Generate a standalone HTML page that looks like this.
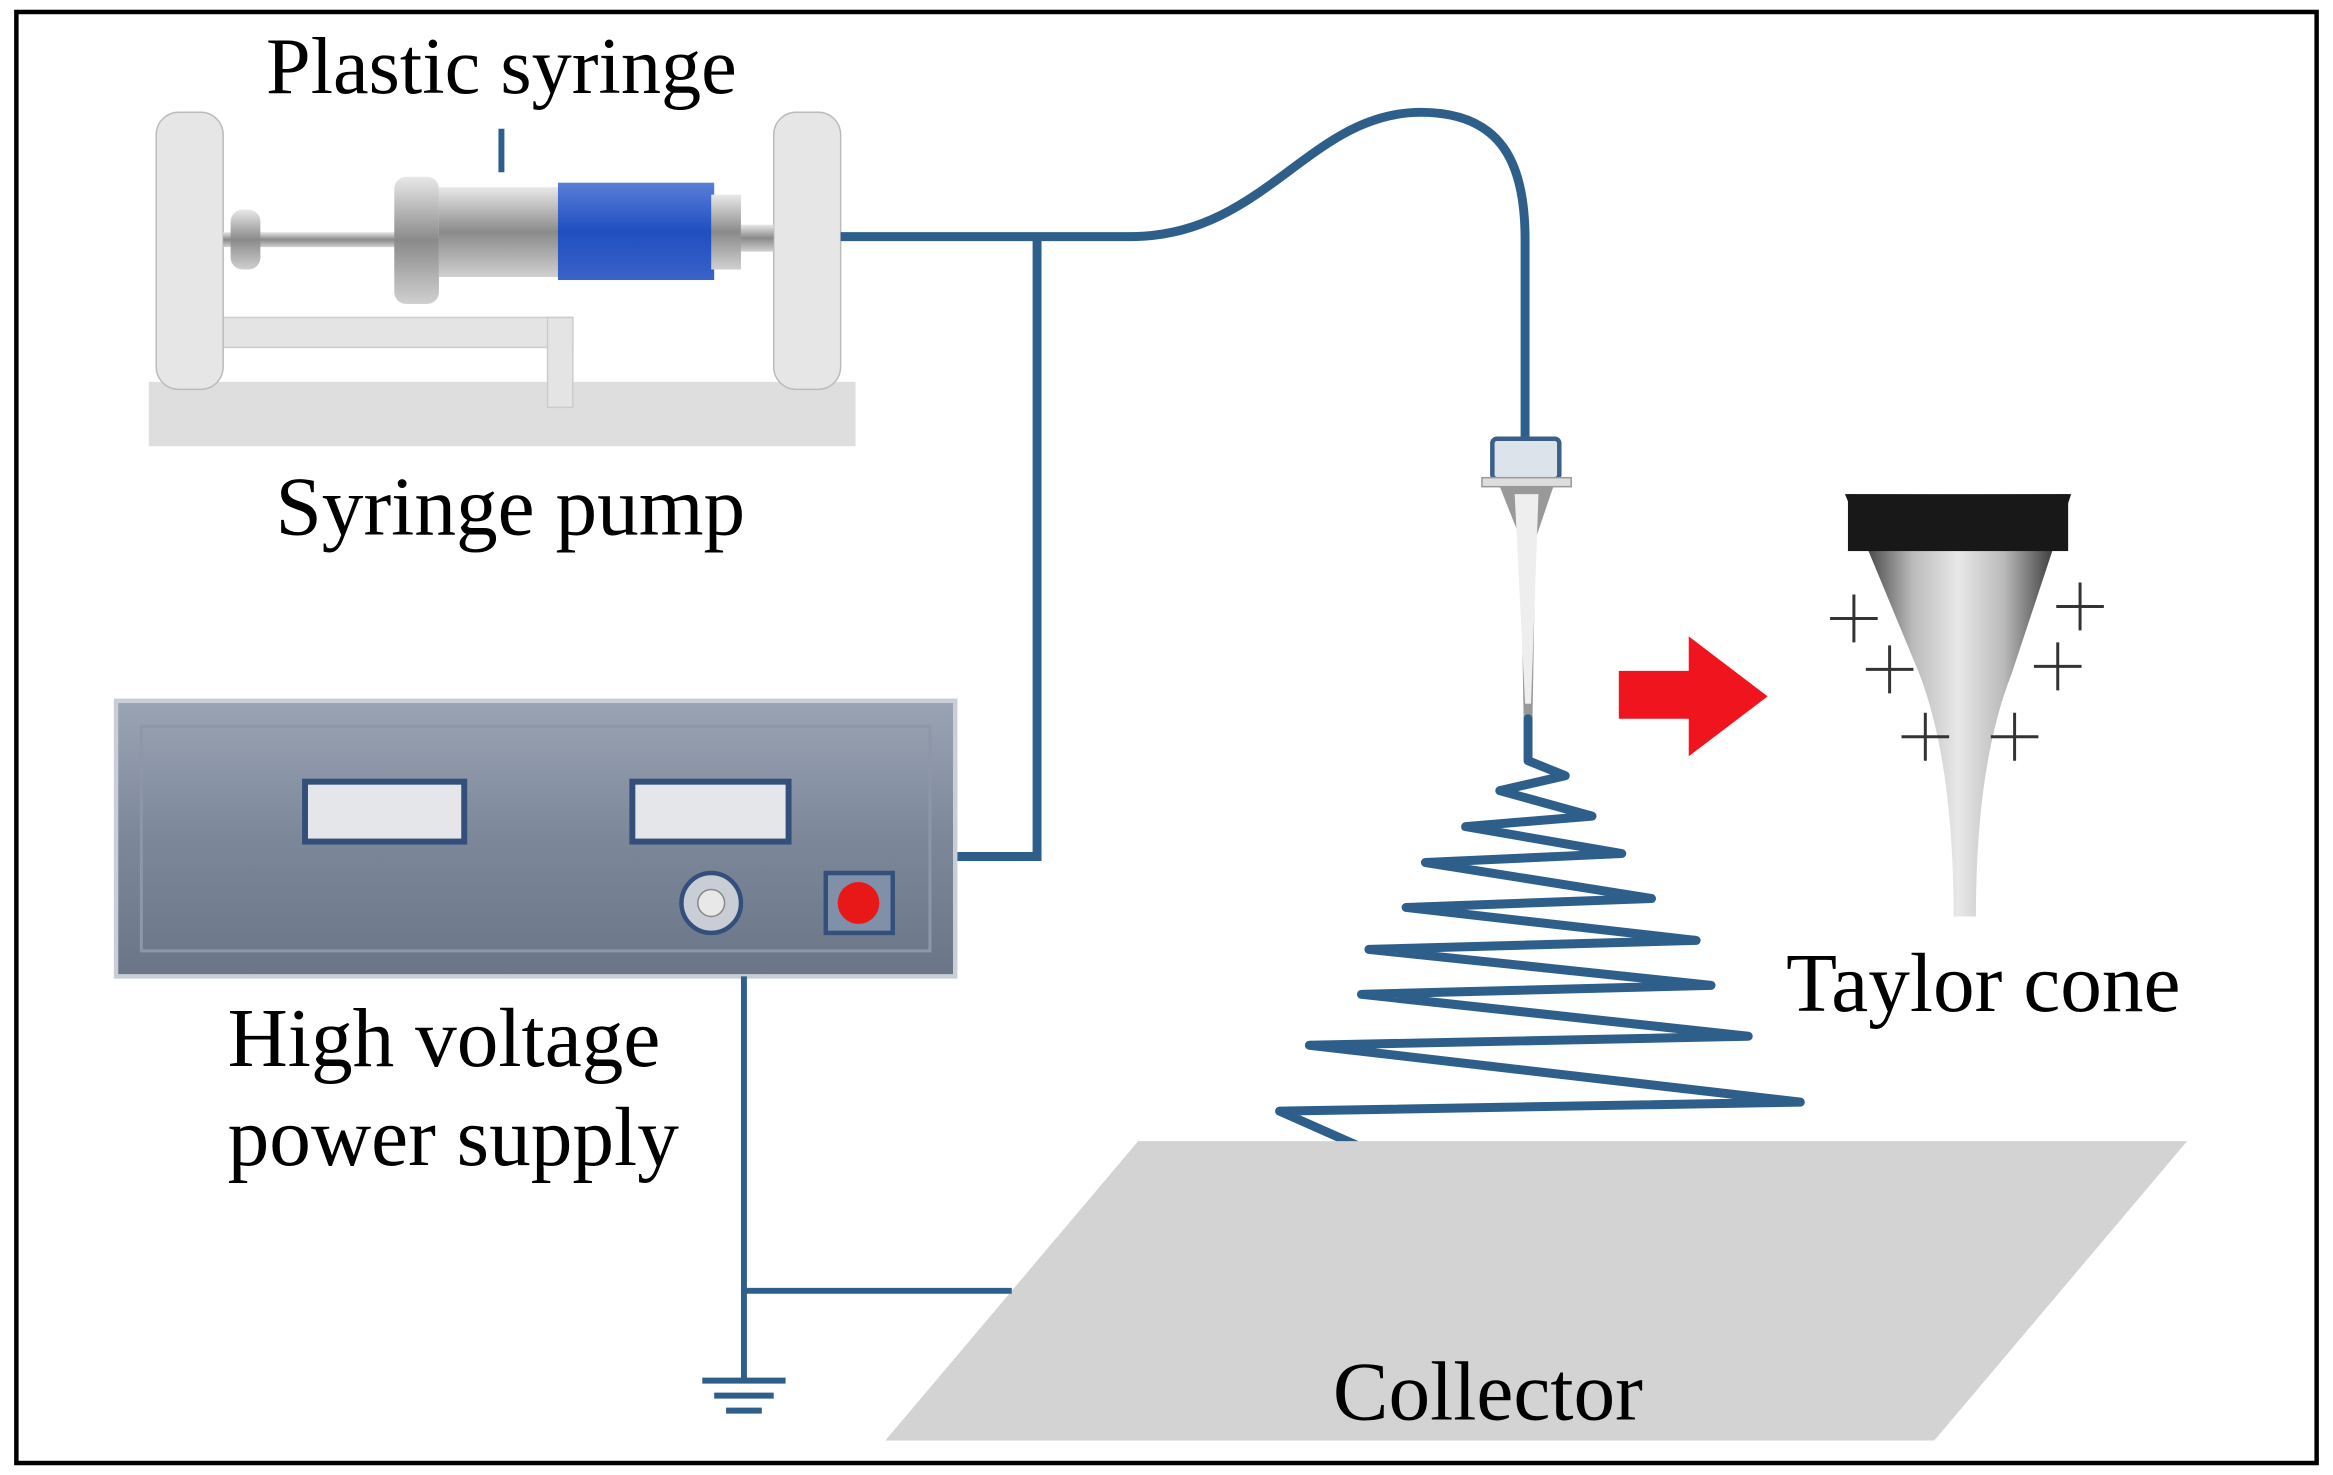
<!DOCTYPE html>
<html><head><meta charset="utf-8"><style>
html,body{margin:0;padding:0;background:#fff}
svg{display:block}
text{font-family:"Liberation Serif",serif;fill:#000}
</style></head><body>
<svg width="2333" height="1475" viewBox="0 0 1568 985" preserveAspectRatio="none">
<defs>
<linearGradient id="box" x1="0" y1="0" x2="0" y2="1"><stop offset="0" stop-color="#9aa4b4"/><stop offset="0.5" stop-color="#7c879a"/><stop offset="1" stop-color="#6b7588"/></linearGradient>
<linearGradient id="metal" x1="0" y1="0" x2="0" y2="1"><stop offset="0" stop-color="#e8e8e8"/><stop offset="0.5" stop-color="#8a8a8a"/><stop offset="1" stop-color="#d0d0d0"/></linearGradient>
<linearGradient id="blue" x1="0" y1="0" x2="0" y2="1"><stop offset="0" stop-color="#5a7fd8"/><stop offset="0.5" stop-color="#1f4fc0"/><stop offset="1" stop-color="#3a62c8"/></linearGradient>
<linearGradient id="cone" x1="0" y1="0" x2="1" y2="0"><stop offset="0" stop-color="#111"/><stop offset="0.3" stop-color="#bbb"/><stop offset="0.5" stop-color="#e8e8e8"/><stop offset="0.7" stop-color="#bbb"/><stop offset="1" stop-color="#111"/></linearGradient>
</defs>
<rect x="11" y="8" width="1546" height="969" fill="#fff" stroke="#000" stroke-width="3"/>
<text x="337" y="62" font-size="54" text-anchor="middle">Plastic syringe</text>
<line x1="337" y1="86" x2="337" y2="115" stroke="#2e5f8a" stroke-width="4"/>
<!-- pump -->
<rect x="100" y="255" width="475" height="43" fill="#dedede"/>
<rect x="140" y="212" width="245" height="20" fill="#e4e4e4" stroke="#ccc"/>
<rect x="368" y="212" width="17" height="60" fill="#e4e4e4" stroke="#ccc"/>
<rect x="105" y="75" width="45" height="185" rx="15" fill="#e6e6e6" stroke="#bbb"/>
<rect x="520" y="75" width="45" height="185" rx="15" fill="#e6e6e6" stroke="#bbb"/>
<rect x="150" y="155" width="130" height="10" fill="url(#metal)"/>
<rect x="155" y="140" width="20" height="40" rx="8" fill="url(#metal)"/>
<rect x="265" y="118" width="30" height="85" rx="8" fill="url(#metal)"/>
<rect x="295" y="125" width="85" height="60" fill="url(#metal)"/>
<rect x="375" y="122" width="105" height="65" fill="url(#blue)"/>
<rect x="478" y="130" width="20" height="50" fill="url(#metal)"/>
<rect x="498" y="150" width="22" height="18" fill="url(#metal)"/>
<!-- tubing -->
<path d="M565 158 H760 C850 158 880 75 955 75 C1010 75 1025 110 1025 160 V295" fill="none" stroke="#2e5f8a" stroke-width="6"/>
<path d="M697 160 V572 H630" fill="none" stroke="#2e5f8a" stroke-width="6"/>
<!-- needle -->
<rect x="1003" y="293" width="45" height="27" rx="3" fill="#dde3ea" stroke="#3a5f88" stroke-width="3"/>
<rect x="996" y="319" width="60" height="6" fill="#ddd" stroke="#999"/>
<path d="M1008 325 L1044 325 L1032 360 L1030 480 L1024 480 L1022 360 Z" fill="#999"/>
<path d="M1018 330 L1034 330 L1029 470 L1025 470 Z" fill="#eee"/>
<!-- spiral -->
<path d="M1027 480 V508 L1052 518 L1008 528 L1070 545 L985 552 L1090 570 L958 576 L1110 600 L945 606 L1140 628 L920 634 L1150 658 L915 664 L1175 692 L880 698 L1210 736 L860 742 L935 775" fill="none" stroke="#2e5f8a" stroke-width="6" stroke-linejoin="round" stroke-linecap="round"/>
<!-- arrow -->
<path d="M1088 448 H1135 V425 L1188 465 L1135 505 V480 H1088 Z" fill="#f0141e"/>
<!-- taylor cone -->
<path d="M1240 330 H1392 L1352 450 Q1328 510 1328 612 H1313 Q1313 510 1290 450 Z" fill="url(#cone)"/>
<rect x="1242" y="330" width="148" height="38" fill="#181818"/>
<g stroke="#333" stroke-width="2">
<path d="M1230 413h32M1246 397v32M1382 405h32M1398 389v32M1254 447h32M1270 431v32M1367 445h32M1383 429v32M1278 492h32M1294 476v32M1338 492h32M1354 476v32"/>
</g>
<text x="1333" y="675" font-size="56" text-anchor="middle">Taylor cone</text>
<!-- power supply -->
<rect x="78" y="468" width="564" height="184" fill="url(#box)" stroke="#c8cdd6" stroke-width="3"/>
<rect x="95" y="485" width="530" height="150" fill="none" stroke="#8d97a8" stroke-width="2"/>
<rect x="205" y="522" width="107" height="40" fill="#e4e6ea" stroke="#34507a" stroke-width="4"/>
<rect x="425" y="522" width="105" height="40" fill="#e4e6ea" stroke="#34507a" stroke-width="4"/>
<circle cx="478" cy="603" r="20" fill="#c9ced6" stroke="#34507a" stroke-width="3"/>
<circle cx="478" cy="603" r="9" fill="#e8e8e8" stroke="#888"/>
<rect x="555" y="583" width="45" height="40" fill="#8090a8" stroke="#34507a" stroke-width="3"/>
<circle cx="577" cy="603" r="14" fill="#e81818"/>
<text x="343" y="357" font-size="56" text-anchor="middle">Syringe pump</text>
<text x="153" y="712" font-size="56">High voltage</text>
<text x="153" y="778" font-size="56">power supply</text>
<!-- collector -->
<path d="M765 762 H1470 L1300 962 H595 Z" fill="#d3d3d3"/>
<text x="1000" y="948" font-size="56" text-anchor="middle">Collector</text>
<!-- ground -->
<path d="M500 652 V922 M500 862 H680" fill="none" stroke="#2e5f8a" stroke-width="4"/>
<path d="M472 922 H528 M480 932 H520 M488 942 H512" stroke="#2e5f8a" stroke-width="4"/>
</svg>
</body></html>
